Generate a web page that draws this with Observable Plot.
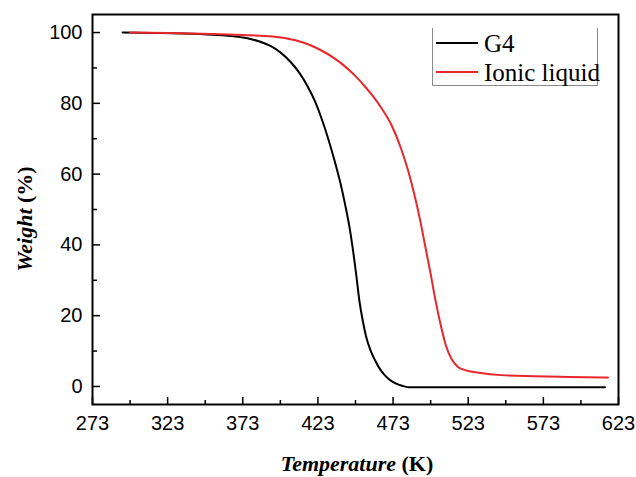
<!DOCTYPE html>
<html><head><meta charset="utf-8">
<script src="https://cdn.jsdelivr.net/npm/d3@7"></script>
<script src="https://cdn.jsdelivr.net/npm/@observablehq/plot@0.6"></script>
<style>body{margin:0;background:#fff} #chart{width:636px;height:477px}</style>
</head><body><div id="chart"></div>
<script>
// ---- data ----
const g4Temp   = [293, 313, 333, 353, 368, 378, 386, 392, 398, 405, 411, 416, 421, 425, 430, 434, 438, 441, 444, 446, 448.5, 450.5, 453, 455, 458, 461, 464, 467, 471, 475, 479, 483, 614];
const g4Weight = [100, 99.9, 99.75, 99.4, 98.9, 98.2, 97.2, 96.1, 94.4, 91.6, 88.4, 84.9, 80.6, 76.2, 69.8, 63.9, 57.4, 51.6, 45, 39.5, 31.5, 24.5, 18.2, 14.2, 10.2, 7.4, 5.1, 3.4, 1.8, 0.8, 0.2, -0.2, -0.2];
const ilTemp   = [298, 323, 353, 373, 393, 408, 418, 425, 433, 440, 447, 454, 460, 465, 472, 478, 483, 487, 491, 494, 498, 501, 505, 508, 512, 516, 521, 530, 545, 567, 590, 616];
const ilWeight = [100, 99.9, 99.6, 99.3, 98.9, 97.8, 96.4, 95, 93, 90.8, 88.1, 84.9, 81.8, 78.8, 73.8, 67.6, 61, 54.5, 47, 40.5, 31.8, 24.8, 16.8, 11.8, 7.7, 5.6, 4.6, 3.9, 3.2, 2.9, 2.7, 2.5];
const seriesNames  = ["G4", "Ionic liquid"];
const seriesColors = ["#000000", "#e8262b"];
const xMajorTicks = [273, 323, 373, 423, 473, 523, 573, 623];
const xMinorTicks = [298, 348, 398, 448, 498, 548, 598];
const yMajorTicks = [0, 20, 40, 60, 80, 100];
const yMinorTicks = [10, 30, 50, 70, 90];
const xTitle = "Temperature", xUnit = "(K)";
const yTitle = "Weight", yUnit = "(%)";

const rows = [
  ...g4Temp.map((t, i) => ({series: seriesNames[0], T: t, W: g4Weight[i]})),
  ...ilTemp.map((t, i) => ({series: seriesNames[1], T: t, W: ilWeight[i]}))
];

const W = 636, H = 477, mL = 92, mR = 18, mT = 14, mB = 73;
const frameW = W - mL - mR, frameH = H - mT - mB;

const plot = Plot.plot({
  width: W, height: H,
  marginLeft: mL, marginRight: mR, marginTop: mT, marginBottom: mB,
  style: {fontFamily: "'Liberation Sans', Arial, sans-serif", fontSize: "20px", color: "#000", background: "#fff"},
  x: {domain: [273, 623]},
  y: {domain: [-5.1, 105.1]},
  color: {domain: seriesNames, range: seriesColors},
  marks: [
    // inward ticks
    Plot.tickX(xMinorTicks, {x: d => d, insetTop: frameH - 4, stroke: "#000", strokeWidth: 1.5}),
    Plot.tickX(xMajorTicks, {x: d => d, insetTop: frameH - 7, stroke: "#000", strokeWidth: 1.5}),
    Plot.tickY(yMinorTicks, {y: d => d, insetRight: frameW - 5, stroke: "#000", strokeWidth: 1.5}),
    Plot.tickY(yMajorTicks, {y: d => d, insetRight: frameW - 8, stroke: "#000", strokeWidth: 1.5}),
    // tick labels
    Plot.axisX(xMajorTicks, {tickSize: 0, tickPadding: 11, label: null}),
    Plot.axisY(yMajorTicks, {tickSize: 0, tickPadding: 10, label: null}),
    Plot.line(rows, {x: "T", y: "W", z: "series", stroke: "series", strokeWidth: 2, curve: "monotone-x"}),
    Plot.frame({stroke: "#000", strokeWidth: 2})
  ]
});
document.getElementById("chart").appendChild(plot);

const svg = d3.select(plot);
const serif = "'Liberation Serif', 'Times New Roman', serif";

// axis titles
const xt = svg.append("text").attr("x", 357).attr("y", 471).attr("text-anchor", "middle")
  .style("font-family", serif).style("font-size", "22px").style("font-weight", "bold").attr("fill", "#000");
xt.append("tspan").style("font-style", "italic").text(xTitle);
xt.append("tspan").text(" " + xUnit);

const yt = svg.append("text").attr("transform", "translate(31.5,219) rotate(-90)").attr("text-anchor", "middle")
  .style("font-family", serif).style("font-size", "22px").style("font-weight", "bold").attr("fill", "#000");
yt.append("tspan").style("font-style", "italic").text(yTitle);
yt.append("tspan").text(" " + yUnit);

// legend
const lg = svg.append("g");
lg.append("path").attr("d", "M432.5,28V85.5H597.5V28").attr("fill", "none").attr("stroke", "#8a8a8a").attr("stroke-width", 1);
seriesNames.forEach((name, i) => {
  const cy = 43 + i * 29;
  lg.append("line").attr("x1", 436).attr("x2", 478).attr("y1", cy).attr("y2", cy)
    .attr("stroke", seriesColors[i]).attr("stroke-width", 2);
  lg.append("text").attr("x", 484).attr("y", cy + 8.5).attr("text-anchor", "start")
    .style("font-family", serif).style("font-size", "25px").attr("fill", "#000").text(name);
});
</script>
</body></html>
